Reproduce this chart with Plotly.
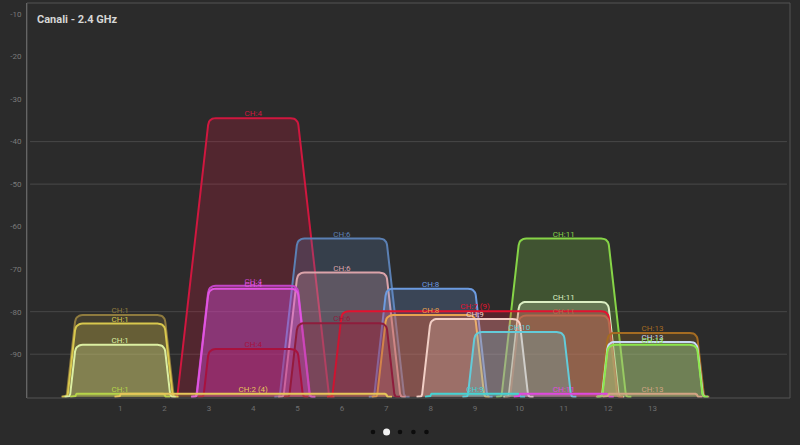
import numpy as np
import plotly.graph_objects as go

# ---------------- data ----------------
labels = ["CH:4", "CH:6", "CH:11", "CH:6", "CH:4", "CH:4", "CH:8", "CH:11",
          "CH:7 (9)", "CH:1", "CH:8", "CH:11", "CH:9", "CH:6", "CH:1", "CH:10",
          "CH:13", "CH:13", "CH:1", "CH:13", "CH:4",
          "CH:1", "CH:2 (4)", "CH:9", "CH:11", "CH:13"]
centers = [4, 6, 11, 6, 4, 4, 8, 11,
           9, 1, 8, 11, 9, 6, 1, 10,
           13, 13, 1, 13, 4,
           1, 4, 9, 11, 13]
bandwidths = [20, 20, 20, 20, 20, 20, 20, 20,
              40, 20, 20, 20, 20, 20, 20, 20,
              20, 20, 20, 20, 20,
              20, 40, 20, 20, 20]
levels = [-34.5, -62.8, -62.8, -70.8, -73.9, -74.6, -74.6, -77.7,
          -79.9, -80.8, -80.8, -80.9, -81.7, -82.7, -82.8, -84.8,
          -85.0, -87.1, -87.8, -87.8, -88.8,
          -99.3, -99.3, -99.3, -99.3, -99.3]
colors = ["#d0173f", "#5b80b4", "#86d447", "#dba3aa", "#c445c8", "#e055e0", "#6c9be0", "#dcefc4",
          "#e3122f", "#8f7b3e", "#e8a24f", "#b86a4e", "#f2cfc6", "#8e1d3c", "#d8c84e", "#63cbd9",
          "#a56c22", "#cad9f6", "#dcefa2", "#8de84c", "#a8123e",
          "#b6d44a", "#e6c65a", "#45d3d3", "#e048e0", "#d2a484"]

x_ticks = list(range(1, 14))
x_tick_labels = [str(v) for v in x_ticks]
y_ticks = [-10, -20, -30, -40, -50, -60, -70, -80, -90]
y_tick_labels = [str(v) for v in y_ticks]
grid_levels = [-40, -50, -80, -90]
title_text = "Canali - 2.4 GHz"

# ---------------- geometry ----------------
W, H = 800, 445
ML, MR, MT, MB = 27, 10, 3, 47
PW, PH = W - ML - MR, H - MT - MB
X_RANGE = [-1.1, 16.1]
Y_RANGE = [-100.3, -7.4]
FLOOR = -100.0
SLOPE = 92.0  # dB per channel on the sides
PX_CH = PW / (X_RANGE[1] - X_RANGE[0])
PX_DB = PH / (Y_RANGE[1] - Y_RANGE[0])
BG = "#2b2b2b"


def hex_rgba(h, a):
    h = h.lstrip("#")
    r, g, b = int(h[0:2], 16), int(h[2:4], 16), int(h[4:6], 16)
    return f"rgba({r},{g},{b},{a})"


def rounded(xs, ys, radii, n=8):
    px = np.array(xs, float) * PX_CH
    py = np.array(ys, float) * PX_DB
    out = [np.array([px[0], py[0]])]
    for i in range(1, len(px) - 1):
        p = np.array([px[i], py[i]])
        a = np.array([px[i - 1], py[i - 1]])
        b = np.array([px[i + 1], py[i + 1]])
        da, db = a - p, b - p
        la, lb = np.linalg.norm(da), np.linalg.norm(db)
        rr = min(radii[i], la / 2, lb / 2)
        if rr < 1e-6:
            out.append(p)
            continue
        p0 = p + da / la * rr
        p1 = p + db / lb * rr
        for t in np.linspace(0, 1, n):
            out.append((1 - t) ** 2 * p0 + 2 * (1 - t) * t * p + t ** 2 * p1)
    out.append(np.array([px[-1], py[-1]]))
    arr = np.array(out)
    return arr[:, 0] / PX_CH, arr[:, 1] / PX_DB


fig = go.Figure()

for lab, c, bw, lvl, col in zip(labels, centers, bandwidths, levels, colors):
    half = bw / 10 - 1
    spread = (lvl - FLOOR) / SLOPE
    foot = 0.12
    xs = [c - half - spread - foot, c - half - spread, c - half, c + half,
          c + half + spread, c + half + spread + foot]
    ys = [FLOOR, FLOOR, lvl, lvl, FLOOR, FLOOR]
    rx, ry = rounded(xs, ys, [0, 4, 7, 7, 4, 0])
    fig.add_trace(go.Scatter(
        x=rx, y=ry, mode="lines", fill="toself",
        fillcolor=hex_rgba(col, 0.24),
        line=dict(color=col, width=2),
        hoverinfo="skip", showlegend=False))

for lab, c, lvl, col in zip(labels, centers, levels, colors):
    fig.add_trace(go.Scatter(
        x=[c], y=[lvl], mode="text", text=[lab], textposition="top center",
        textfont=dict(family="Roboto", size=8, color=col),
        hoverinfo="skip", showlegend=False))

shapes = []
for g in grid_levels:
    shapes.append(dict(type="line", xref="paper", yref="y", x0=0.004, x1=0.996,
                       y0=g, y1=g, line=dict(color="#484848", width=1), layer="below"))
shapes.append(dict(type="rect", xref="paper", yref="paper", x0=0, x1=1, y0=0, y1=1,
                   line=dict(color="#555555", width=1)))

# page indicator dots
dot_x = [373, 386.6, 400, 413.4, 426.5]
for i, dx in enumerate(dot_x):
    r = 3.5 if i == 1 else 2.3
    colr = "#f2f2f2" if i == 1 else "#0c0c0c"
    shapes.append(dict(type="circle", xref="paper", yref="paper",
                       xsizemode="pixel", ysizemode="pixel",
                       xanchor=(dx - ML) / PW, yanchor=(MT + PH - 432) / PH,
                       x0=-r, x1=r, y0=-r, y1=r,
                       fillcolor=colr, line=dict(width=0)))

fig.update_layout(
    width=W, height=H,
    margin=dict(l=ML, r=MR, t=MT, b=MB),
    paper_bgcolor=BG, plot_bgcolor=BG,
    shapes=shapes,
    xaxis=dict(range=X_RANGE, tickvals=x_ticks, ticktext=x_tick_labels,
               showgrid=False, zeroline=False, showline=False, ticks="",
               tickfont=dict(family="Roboto", size=8, color="#6e6e6e"), ticklabelstandoff=4),
    yaxis=dict(range=Y_RANGE, tickvals=y_ticks, ticktext=y_tick_labels,
               showgrid=False, zeroline=False, showline=True, linecolor="#777777",
               linewidth=1, ticks="",
               tickfont=dict(family="Roboto", size=8, color="#7a7a7a"), ticklabelstandoff=3),
    annotations=[dict(text=f"<b>{title_text}</b>", xref="paper", yref="paper",
                      x=(35 - ML) / PW, y=(MT + PH - 19) / PH, xanchor="left", yanchor="middle",
                      showarrow=False, font=dict(family="Roboto", size=11, color="#d6d6d6"))],
)

fig.write_html("out.html")
